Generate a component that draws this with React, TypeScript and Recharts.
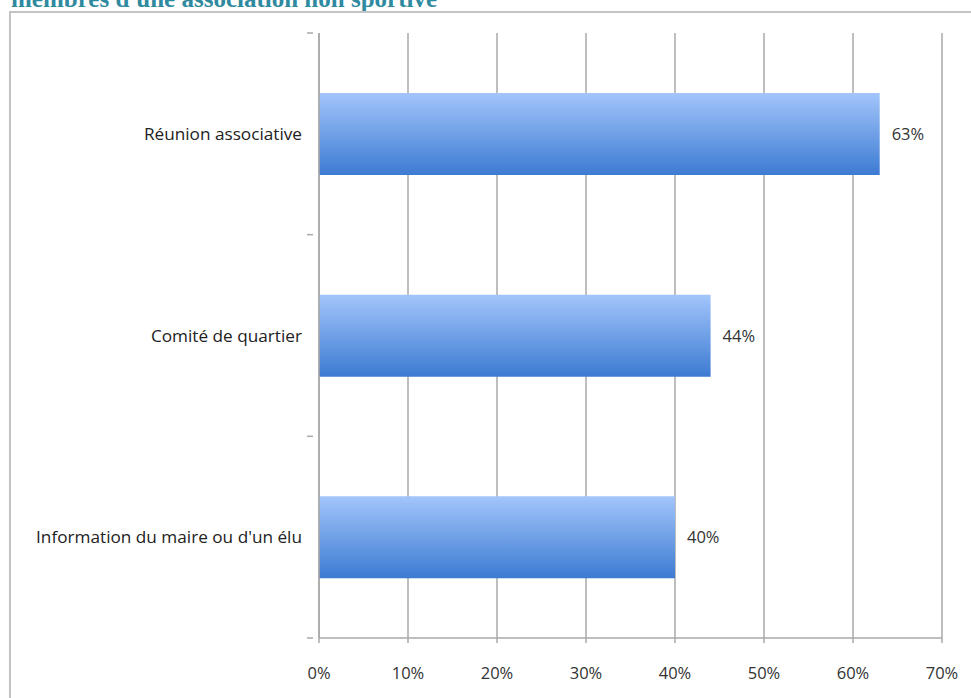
import React from 'react';
import { BarChart, Bar, XAxis, YAxis, CartesianGrid, LabelList } from 'recharts';

const categories = ['Réunion associative', 'Comité de quartier', "Information du maire ou d'un élu"];
const values = [63, 44, 40];
const xTicks = [0, 10, 20, 30, 40, 50, 60, 70];
const titleText = "membres d'une association non sportive";

const data = categories.map((c, i) => ({ name: c, value: values[i] }));

const FONT = '"Open Sans", "DejaVu Sans", sans-serif';
const GRID = '#a8a8a8';
const CAT_MARGIN = 11;

function CategoryTick(props: any) {
  const { x, y, payload, index, visibleTicksCount, height } = props;
  const band = height / visibleTicksCount;
  const axisX = x + CAT_MARGIN;
  const lines = [y - band / 2];
  if (index === visibleTicksCount - 1) lines.push(y + band / 2);
  return (
    <g>
      {lines.map((ly, i) => (
        <line key={i} x1={axisX - 6} x2={axisX} y1={ly} y2={ly} stroke={GRID} strokeWidth={1.5} />
      ))}
      <text x={x} y={y} dy="0.35em" textAnchor="end" fill="#222" fontSize={17.2} fontFamily={FONT}>
        {payload.value}
      </text>
    </g>
  );
}

export default function App() {
  return (
    <div style={{ position: 'absolute', left: 0, top: 0, width: 971, height: 698, overflow: 'hidden', background: '#fff' }}>
      <div
        style={{
          position: 'absolute',
          right: 971 - 437,
          top: -15,
          whiteSpace: 'nowrap',
          fontFamily: '"Liberation Serif", "Times New Roman", serif',
          fontWeight: 'bold',
          fontSize: 25,
          color: '#2f8aa0',
          lineHeight: '28px',
        }}
      >
        {titleText}
      </div>
      <div
        style={{
          position: 'absolute',
          left: 9,
          top: 11,
          width: 1000,
          height: 720,
          borderLeft: '2px solid #c4c4c4',
          borderTop: '2px solid #c4c4c4',
          boxShadow: '1px 1px 2px rgba(0,0,0,0.15)',
        }}
      />
      <div style={{ position: 'absolute', left: 0, top: 0 }}>
        <BarChart
          width={971}
          height={698}
          data={data}
          layout="vertical"
          margin={{ top: 33, right: 29, bottom: 0, left: 0 }}
        >
          <defs>
            <linearGradient id="barGrad" x1="0" y1="0" x2="0" y2="1">
              <stop offset="0%" stopColor="#a3c5fb" />
              <stop offset="100%" stopColor="#3c7bd2" />
            </linearGradient>
          </defs>
          <CartesianGrid horizontal={false} vertical={true} stroke={GRID} strokeWidth={1.5} />
          <XAxis
            type="number"
            domain={[0, 70]}
            ticks={xTicks}
            tickFormatter={(v: number) => `${v}%`}
            height={60}
            axisLine={{ stroke: GRID, strokeWidth: 1.5 }}
            tickLine={{ stroke: GRID, strokeWidth: 1.5 }}
            tickSize={5}
            tickMargin={24}
            tick={{ fill: '#333', fontSize: 16.5, fontFamily: FONT }}
            interval={0}
          />
          <YAxis
            type="category"
            dataKey="name"
            width={319}
            axisLine={{ stroke: GRID, strokeWidth: 1.5 }}
            tickLine={false}
            tickMargin={CAT_MARGIN}
            tick={<CategoryTick />}
          />
          <Bar dataKey="value" fill="url(#barGrad)" barSize={82} isAnimationActive={false}>
            <LabelList
              dataKey="value"
              position="right"
              offset={12}
              formatter={(v: number) => `${v}%`}
              style={{ fill: '#333', fontSize: 16.5, fontFamily: FONT }}
            />
          </Bar>
        </BarChart>
      </div>
    </div>
  );
}
